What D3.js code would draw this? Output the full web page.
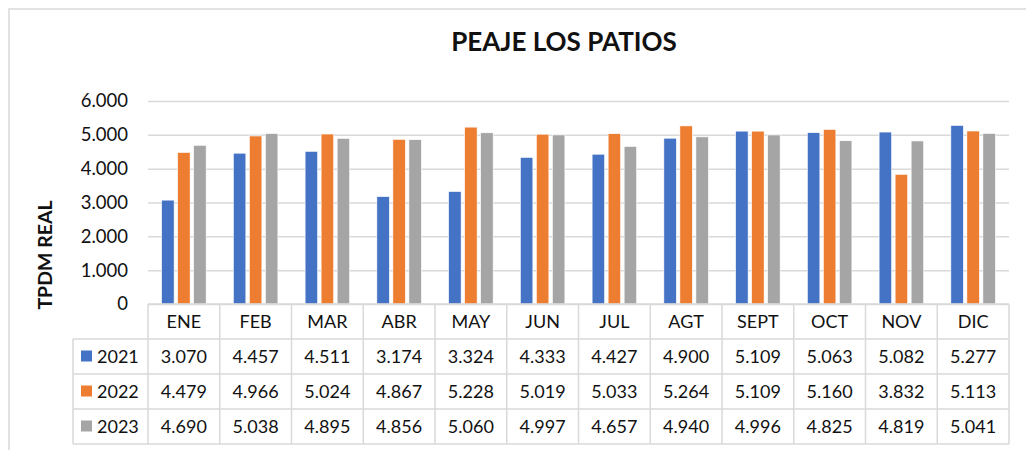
<!DOCTYPE html>
<html>
<head>
<meta charset="utf-8">
<script src="https://cdn.jsdelivr.net/npm/d3@7"></script>
<style>
  html, body { margin: 0; padding: 0; background: #fff; }
  svg { display: block; font-family: Lato, "Open Sans", sans-serif; }
</style>
</head>
<body>
<svg id="chart" width="1026" height="450"></svg>
<script>
// Monthly TPDM values at the Los Patios toll
const months = ["ENE", "FEB", "MAR", "ABR", "MAY", "JUN", "JUL", "AGT", "SEPT", "OCT", "NOV", "DIC"];
const years = ["2021", "2022", "2023"];
const values2021 = [3070, 4457, 4511, 3174, 3324, 4333, 4427, 4900, 5109, 5063, 5082, 5277];
const values2022 = [4479, 4966, 5024, 4867, 5228, 5019, 5033, 5264, 5109, 5160, 3832, 5113];
const values2023 = [4690, 5038, 4895, 4856, 5060, 4997, 4657, 4940, 4996, 4825, 4819, 5041];
const yTicks = [0, 1000, 2000, 3000, 4000, 5000, 6000];
const colors = ["#4472C4", "#ED7D31", "#A5A5A5"];

const seriesValues = [values2021, values2022, values2023];
const fmt = v => d3.format(",")(v).replace(/,/g, ".");

const svg = d3.select("#chart");
const plot = { left: 148, right: 1009, top: 101, bottom: 304 };
const gridColor = "#d9d9d9";

// chart frame
svg.append("rect")
  .attr("x", 9).attr("y", 9)
  .attr("width", 1040).attr("height", 460)
  .attr("fill", "#fff").attr("stroke", gridColor).attr("stroke-width", 1.5);

const x = d3.scaleBand().domain(months).range([plot.left, plot.right]);
const xs = d3.scaleBand().domain(years).range([0, x.bandwidth()]).paddingInner(0.22).paddingOuter(0.85);
const y = d3.scaleLinear().domain([0, 6000]).range([plot.bottom, plot.top]);

// title
svg.append("text")
  .attr("x", 564).attr("y", 51)
  .attr("text-anchor", "middle")
  .attr("font-weight", "bold").attr("font-size", 26)
  .attr("fill", "#111")
  .text("PEAJE LOS PATIOS");

// y axis title
svg.append("text")
  .attr("transform", "translate(52,255) rotate(-90)")
  .attr("text-anchor", "middle")
  .attr("font-weight", "bold").attr("font-size", 19.5)
  .attr("fill", "#111")
  .text("TPDM REAL");

// gridlines + tick labels
const yAxis = d3.axisLeft(y).tickValues(yTicks).tickFormat(fmt)
  .tickSize(-(plot.right - plot.left)).tickPadding(20);
const gy = svg.append("g").attr("transform", `translate(${plot.left},0)`).call(yAxis);
gy.select(".domain").remove();
gy.selectAll(".tick line").attr("stroke", gridColor).attr("stroke-width", 1.5);
gy.selectAll(".tick text").attr("font-size", 18.5).attr("fill", "#111")
  .attr("font-family", "Lato, sans-serif");

// bars
const groups = svg.append("g").selectAll("g")
  .data(months)
  .join("g")
  .attr("transform", d => `translate(${x(d)},0)`);

groups.selectAll("rect")
  .data((m, i) => years.map((yr, s) => ({ yr, s, v: seriesValues[s][i] })))
  .join("rect")
  .attr("x", d => xs(d.yr))
  .attr("width", xs.bandwidth())
  .attr("y", d => y(d.v))
  .attr("height", d => y(0) - y(d.v))
  .attr("fill", d => colors[d.s])
  .attr("stroke", "#fff").attr("stroke-width", 0.6);

// data table under the axis
const rowH = 35;
const tableTop = plot.bottom;
const headerLeft = 73;
const table = svg.append("g");
const lineAttrs = sel => sel.attr("stroke", gridColor).attr("stroke-width", 1.5);

// horizontal rules
table.append("line").call(lineAttrs)
  .attr("x1", plot.left).attr("x2", plot.right).attr("y1", tableTop).attr("y2", tableTop);
for (let r = 1; r <= years.length + 1; r++) {
  table.append("line").call(lineAttrs)
    .attr("x1", headerLeft).attr("x2", plot.right)
    .attr("y1", tableTop + r * rowH).attr("y2", tableTop + r * rowH);
}
// vertical rules
const colEdges = months.map(m => x(m)).concat([plot.right]);
colEdges.forEach(cx => {
  table.append("line").call(lineAttrs)
    .attr("x1", cx).attr("x2", cx)
    .attr("y1", tableTop).attr("y2", tableTop + rowH * (years.length + 1));
});
table.append("line").call(lineAttrs)
  .attr("x1", headerLeft).attr("x2", headerLeft)
  .attr("y1", tableTop + rowH).attr("y2", tableTop + rowH * (years.length + 1));

// month header row
table.selectAll("text.month")
  .data(months)
  .join("text")
  .attr("class", "month")
  .attr("x", d => x(d) + x.bandwidth() / 2)
  .attr("y", tableTop + rowH / 2)
  .attr("dy", "0.35em")
  .attr("text-anchor", "middle")
  .attr("font-size", 18).attr("fill", "#111")
  .text(d => d);

// series rows
years.forEach((yr, s) => {
  const cy = tableTop + rowH * (s + 1) + rowH / 2;
  table.append("rect")
    .attr("x", 81).attr("y", cy - 6)
    .attr("width", 11).attr("height", 11)
    .attr("fill", colors[s]);
  table.append("text")
    .attr("x", 97).attr("y", cy).attr("dy", "0.35em")
    .attr("font-size", 18).attr("fill", "#111")
    .text(yr);
  table.selectAll(null)
    .data(seriesValues[s])
    .join("text")
    .attr("x", (d, i) => x(months[i]) + x.bandwidth() / 2)
    .attr("y", cy).attr("dy", "0.35em")
    .attr("text-anchor", "middle")
    .attr("font-size", 18).attr("fill", "#111")
    .text(d => fmt(d));
});
</script>
</body>
</html>
